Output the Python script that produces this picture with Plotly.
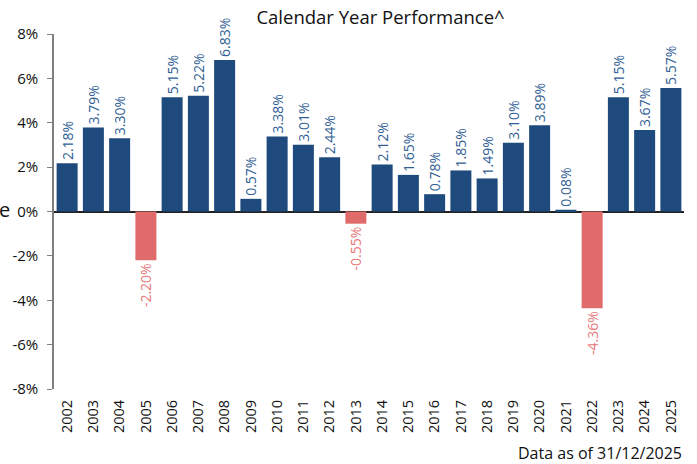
import plotly.graph_objects as go

years = [str(y) for y in range(2002, 2026)]
returns = [2.18, 3.79, 3.30, -2.20, 5.15, 5.22, 6.83, 0.57, 3.38, 3.01, 2.44, -0.55,
           2.12, 1.65, 0.78, 1.85, 1.49, 3.10, 3.89, 0.08, -4.36, 5.15, 3.67, 5.57]
y_ticks = [-8, -6, -4, -2, 0, 2, 4, 6, 8]

POS = "#1F4A7D"
NEG = "#E06B6B"
POS_TXT = "#2F5E94"
NEG_TXT = "#E8777A"

colors = [POS if v >= 0 else NEG for v in returns]
tcolors = [POS_TXT if v >= 0 else NEG_TXT for v in returns]
labels = [f"{v:.2f}%" for v in returns]

FONT = "Open Sans"

fig = go.Figure(go.Bar(
    x=years, y=returns, marker=dict(color=colors, line=dict(width=0)),
    text=labels, textposition="outside", textangle=-90,
    textfont=dict(family=FONT, size=14, color=tcolors),
    constraintext="none", cliponaxis=False, hoverinfo="skip",
))

fig.update_layout(
    width=697, height=464,
    margin=dict(l=54, r=13, t=34, b=75),
    plot_bgcolor="white", paper_bgcolor="white",
    bargap=0.2, showlegend=False,
    font=dict(family=FONT, color="#111111"),
    title=dict(text="Calendar Year Performance^", x=0.546, xanchor="center",
               y=0.962, yanchor="middle", font=dict(family=FONT, size=18.5, color="#111111")),
)
fig.update_xaxes(
    type="category", tickangle=-90, showgrid=False, showline=False, ticks="",
    tickfont=dict(family=FONT, size=14.5, color="#111111"), ticklabelstandoff=7,
)
fig.update_yaxes(
    range=[-8, 8], tickvals=y_ticks, ticktext=[f"{t}%" for t in y_ticks],
    showgrid=False, showline=True, linecolor="#7F7F7F", linewidth=1.5,
    ticks="outside", ticklen=5, tickcolor="#7F7F7F",
    zeroline=True, zerolinecolor="#222222", zerolinewidth=1.5,
    tickfont=dict(family=FONT, size=15, color="#111111"), ticklabelstandoff=6,
)
fig.add_annotation(text="Data as of 31/12/2025", xref="paper", yref="paper",
                   x=1.0, y=-0.18, xanchor="right", yanchor="middle", showarrow=False,
                   font=dict(family=FONT, size=16, color="#111111"))
fig.add_annotation(text="e", xref="paper", yref="paper", x=-54/630, y=0.5,
                   xanchor="left", yanchor="middle", showarrow=False, xshift=-3, yshift=2,
                   font=dict(family=FONT, size=20, color="#111111"))

fig.write_html("out.html", config={"displayModeBar": False},
               post_script="document.body.style.margin='0';")
